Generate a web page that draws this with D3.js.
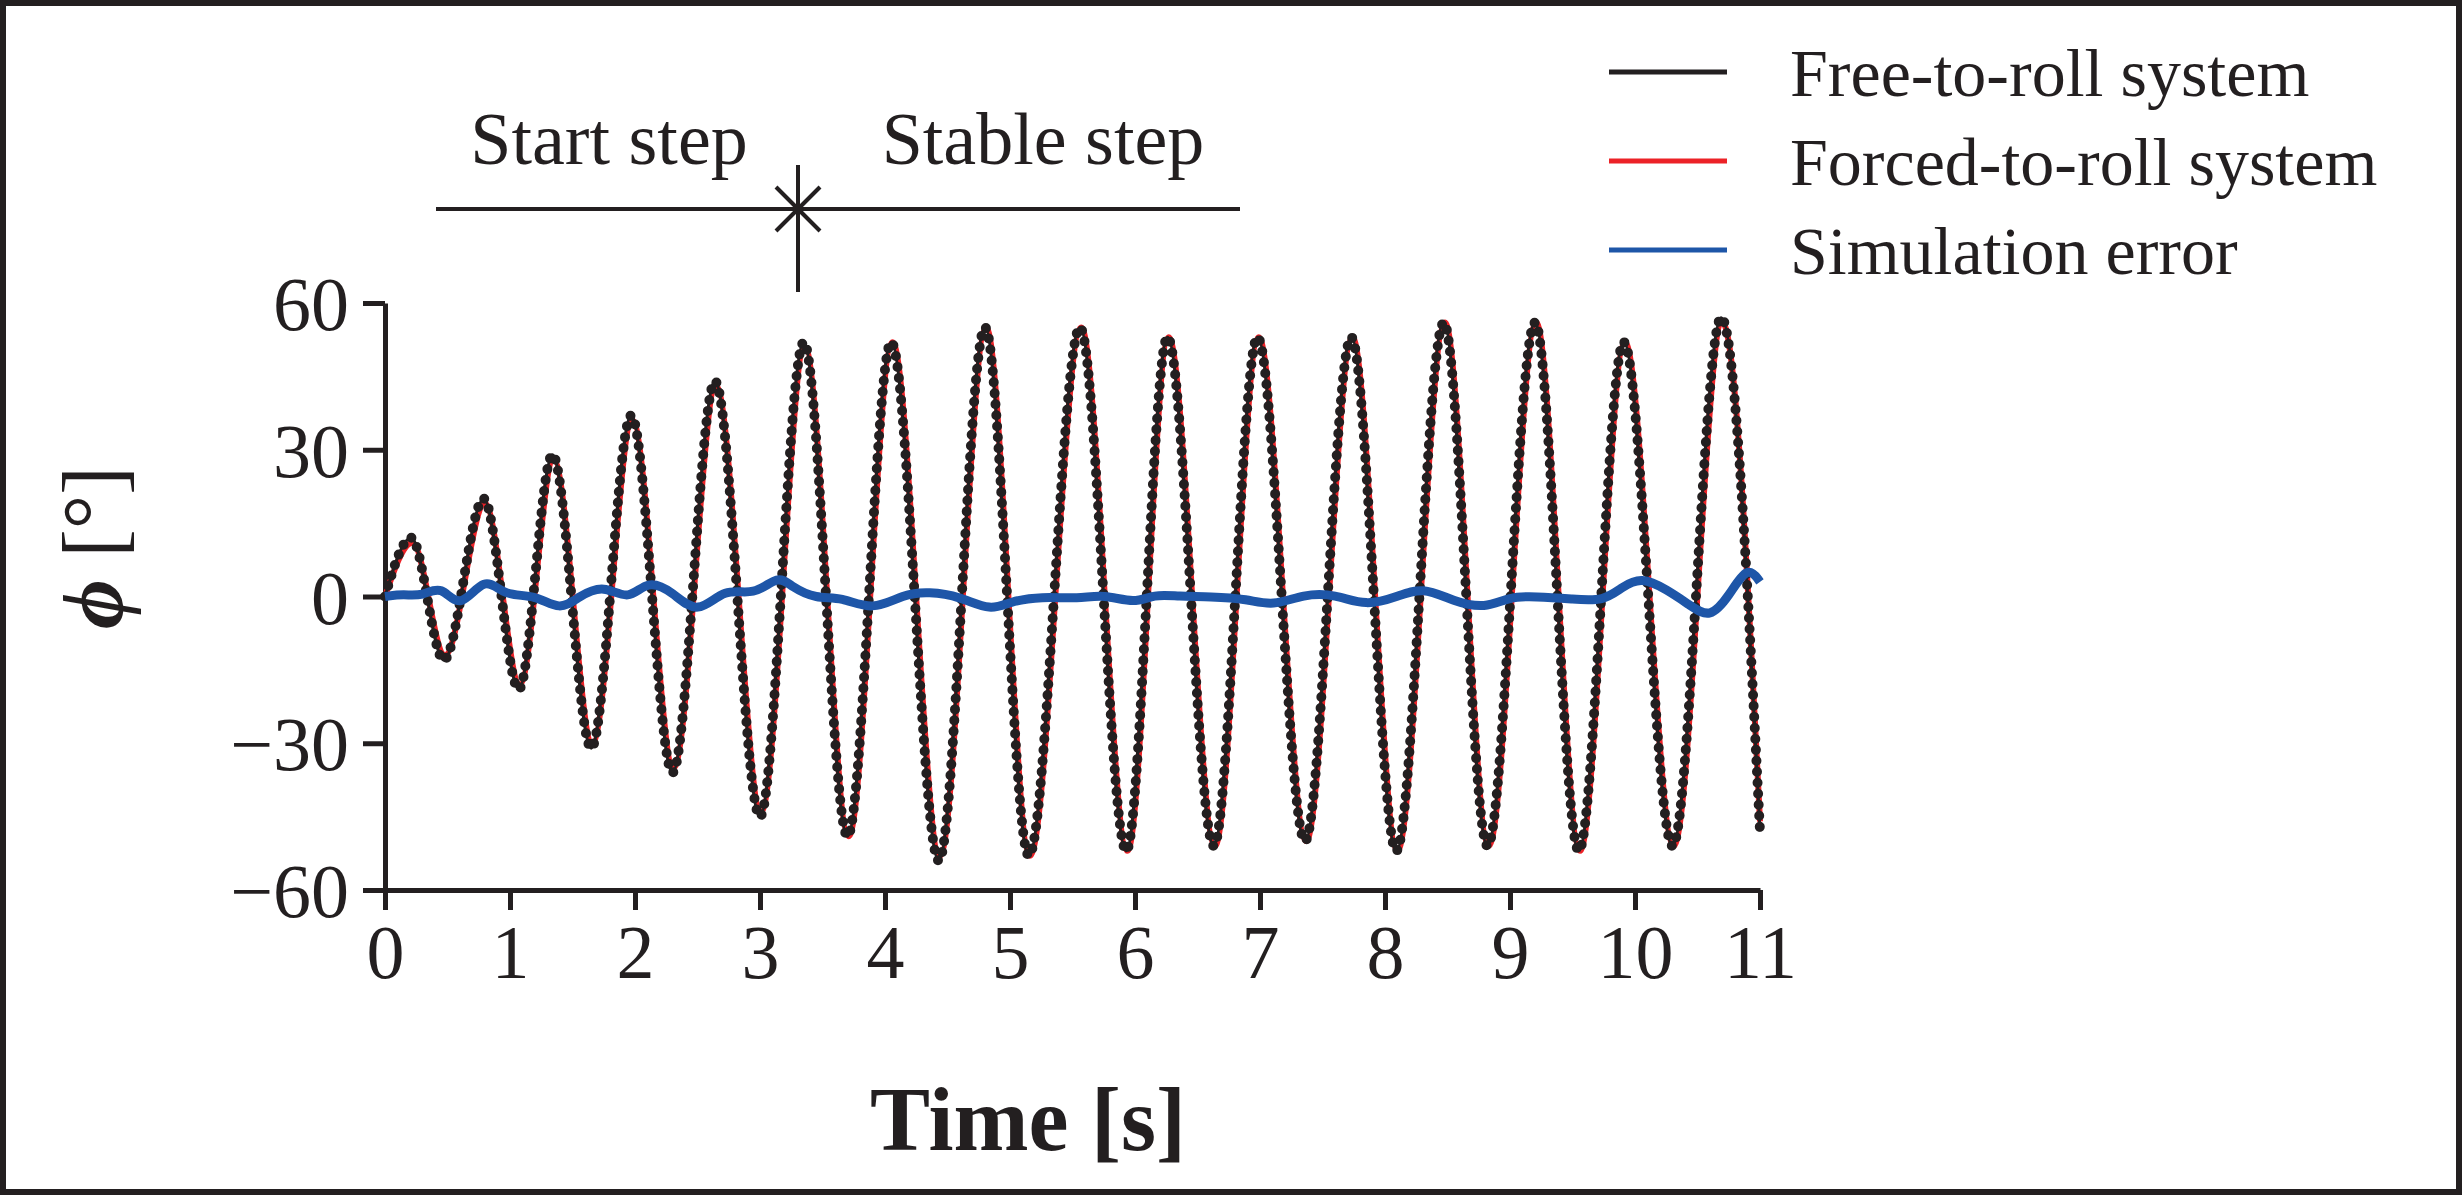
<!DOCTYPE html>
<html><head><meta charset="utf-8">
<script src="https://cdn.jsdelivr.net/npm/d3@7"></script>
<style>body{margin:0;background:#fff}svg{display:block}</style>
</head><body><div id="chart"></div>
<script>
// extrema of the roll angle (time [s], angle [deg])
const freeT = [0, 0.21, 0.47, 0.79, 1.07, 1.34, 1.65, 1.97, 2.3, 2.64, 3.0, 3.35, 3.7, 4.05, 4.43, 4.8, 5.15, 5.56, 5.93, 6.26, 6.63, 6.98, 7.36, 7.73, 8.09, 8.47, 8.82, 9.2, 9.55, 9.91, 10.3, 10.69, 11.0];
const freeV = [0, 12, -13, 20, -19, 29, -31, 37, -36, 44, -45, 52, -49, 52, -54, 55, -53, 55, -52, 53, -51, 53, -50, 53, -52, 56, -51, 56, -52, 52, -51, 57, -48];
const forcedT = [0, 0.22, 0.48, 0.8, 1.08, 1.35, 1.66, 1.98, 2.31, 2.65, 3.01, 3.36, 3.71, 4.06, 4.44, 4.81, 5.16, 5.57, 5.94, 6.27, 6.64, 6.99, 7.37, 7.74, 8.1, 8.48, 8.83, 9.21, 9.56, 9.92, 10.31, 10.7, 11.0];
const forcedV = [0, 11, -12, 19, -18, 28, -30, 36, -35, 43, -44, 51, -49, 52, -53, 55, -53, 55, -52, 53, -51, 53, -50, 53, -52, 56, -51, 56, -52, 52, -51, 56, -46];
const errT = [0, 0.15, 0.3, 0.45, 0.6, 0.8, 0.95, 1.2, 1.4, 1.55, 1.75, 1.95, 2.1, 2.3, 2.5, 2.72, 2.95, 3.15, 3.25, 3.45, 3.65, 3.9, 4.15, 4.35, 4.6, 4.85, 5.0, 5.25, 5.55, 5.75, 6.0, 6.15, 6.35, 6.6, 6.9, 7.1, 7.35, 7.6, 7.85, 8.1, 8.3, 8.55, 8.8, 9.0, 9.2, 9.5, 9.75, 9.9, 10.05, 10.25, 10.45, 10.6, 10.75, 10.9, 11.0];
const errV = [0, 0.5, 0, 2.5, -3, 4.5, 0, 0.5, -3, 0, 2.5, -1, 3.5, 1, -4, 2, 0, 4.5, 2, -0.5, 0, -3, 0.5, 1, 0, -3, -1, 0, -0.5, 0.5, -1.5, 0.5, 0, 0, -0.5, -2, 0.5, 0.5, -2, 0, 2, -1, -2.5, 0, 0, -0.5, -1, 2, 4, 1.5, -2, -4.5, 0, 6.5, 3];
const yTicks = [-60, -30, 0, 30, 60];
const xTicks = d3.range(0, 12);
const legendNames = ['Free-to-roll system', 'Forced-to-roll system', 'Simulation error'];
const legendColors = ['#231f20', '#ec2227', '#1e56a8'];

const W = 2462, H = 1195;
const svg = d3.select('#chart').append('svg').attr('width', W).attr('height', H);
svg.append('rect').attr('x', 3).attr('y', 3).attr('width', W - 6).attr('height', H - 6)
  .attr('fill', '#fff').attr('stroke', '#231f20').attr('stroke-width', 6);

const font = '"Liberation Serif", "DejaVu Serif", serif';
const x = d3.scaleLinear().domain([0, 11]).range([385, 1760]);
const y = d3.scaleLinear().domain([-60, 60]).range([890, 303]);

// axes
const xa = svg.append('g').attr('transform', `translate(0,${y(-60)})`)
  .call(d3.axisBottom(x).tickValues(xTicks).tickSize(20).tickSizeOuter(0).tickPadding(14));
const ya = svg.append('g').attr('transform', `translate(${x(0)},0)`)
  .call(d3.axisLeft(y).tickValues(yTicks).tickFormat(d => d < 0 ? '\u2212' + (-d) : d).tickSize(22).tickSizeOuter(0).tickPadding(14));
[xa, ya].forEach(a => {
  a.selectAll('path,line').attr('stroke', '#231f20').attr('stroke-width', 5);
  a.selectAll('text').attr('font-family', font).attr('font-size', 76).attr('fill', '#231f20');
});
ya.selectAll('text').attr('dy', '0.35em');

const line = (xs, vs) => d3.line().curve(d3.curveMonotoneX)
  .x((d, i) => x(xs[i])).y(d => y(d))(vs);

svg.append('path').attr('d', line(forcedT, forcedV)).attr('fill', 'none')
  .attr('stroke', legendColors[1]).attr('stroke-width', 6);
svg.append('path').attr('d', line(freeT, freeV)).attr('fill', 'none')
  .attr('stroke', legendColors[0]).attr('stroke-width', 3);
svg.append('path').attr('d', line(freeT, freeV)).attr('fill', 'none')
  .attr('stroke', legendColors[0]).attr('stroke-width', 10).attr('stroke-linecap', 'round')
  .attr('stroke-dasharray', '0 11');
svg.append('path').attr('d', d3.line().curve(d3.curveBasis).x((d, i) => x(errT[i])).y(d => y(d))(errV))
  .attr('fill', 'none').attr('stroke', legendColors[2]).attr('stroke-width', 9);

// phase annotation
const ann = svg.append('g').attr('stroke', '#231f20').attr('stroke-width', 4);
ann.append('line').attr('x1', 436).attr('x2', 1240).attr('y1', 209).attr('y2', 209);
ann.append('line').attr('x1', 798).attr('x2', 798).attr('y1', 165).attr('y2', 292);
ann.append('line').attr('x1', 776).attr('x2', 820).attr('y1', 187).attr('y2', 231);
ann.append('line').attr('x1', 776).attr('x2', 820).attr('y1', 231).attr('y2', 187);
svg.append('text').attr('x', 609).attr('y', 164).attr('text-anchor', 'middle')
  .attr('font-family', font).attr('font-size', 74).attr('fill', '#231f20').text('Start step');
svg.append('text').attr('x', 1043).attr('y', 164).attr('text-anchor', 'middle')
  .attr('font-family', font).attr('font-size', 74).attr('fill', '#231f20').text('Stable step');

// axis titles
svg.append('text').attr('x', 1028).attr('y', 1150).attr('text-anchor', 'middle')
  .attr('font-family', font).attr('font-size', 90).attr('font-weight', 'bold').attr('fill', '#231f20').text('Time [s]');
const yl = svg.append('text').attr('transform', `translate(122,${y(10)}) rotate(-90)`).attr('text-anchor', 'middle')
  .attr('font-family', font).attr('font-size', 86).attr('fill', '#231f20');
yl.append('tspan').attr('font-weight', 'bold').attr('font-style', 'italic').text('\u03d5');
yl.append('tspan').text(' [°]');

// legend
const lg = svg.append('g');
legendNames.forEach((n, i) => {
  const ly = 72 + i * 89;
  lg.append('line').attr('x1', 1609).attr('x2', 1727).attr('y1', ly).attr('y2', ly)
    .attr('stroke', legendColors[i]).attr('stroke-width', 5);
  lg.append('text').attr('x', 1790).attr('y', ly).attr('dy', '0.35em')
    .attr('font-family', font).attr('font-size', 68).attr('fill', '#231f20').text(n);
});
</script></body></html>
